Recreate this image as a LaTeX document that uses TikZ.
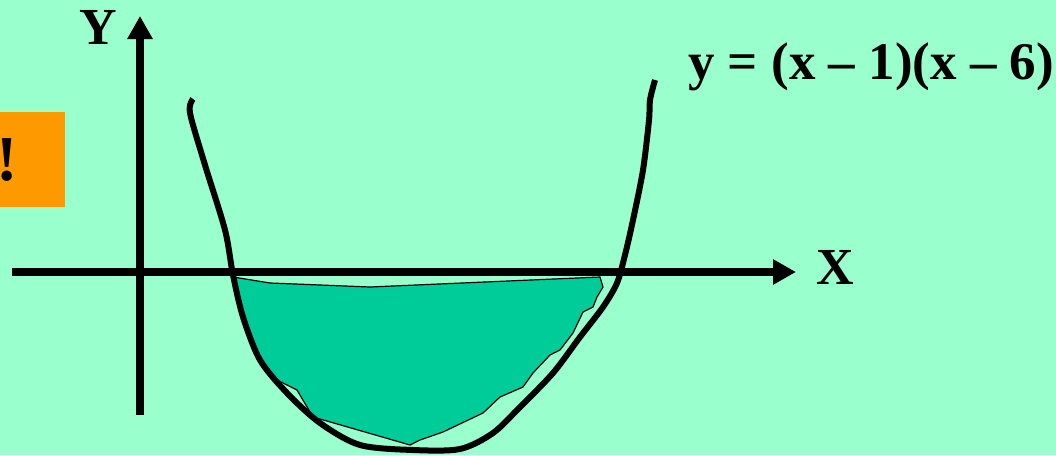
\documentclass[tikz,border=0pt]{standalone}
\usepackage{fontspec}
\setmainfont{Liberation Serif}
\usetikzlibrary{positioning,arrows.meta}
\definecolor{bgmint}{HTML}{99FFCC}
\definecolor{taborange}{HTML}{FF9900}
\definecolor{pitteal}{HTML}{00CC99}

\begin{document}
\begin{tikzpicture}[x=1pt,y=-1pt,>={Triangle[length=23pt,width=24pt]},
  axis/.style={line width=8pt,->},
  parab/.style={line width=6pt,line join=round},
  biglabel/.style={font=\fontsize{52}{60}\selectfont\bfseries,inner sep=0pt}]
  \fill[bgmint] (0,0) rectangle (1056,455);
  \useasboundingbox (0,0) rectangle (1056,455);
  % ---- orange tab ----
  \fill[taborange] (0,112) rectangle (65,207);
  \node[biglabel,font=\fontsize{64}{70}\selectfont\bfseries] (bang) at (7,160) {!};
  % ---- shaded region ----
  \filldraw[fill=pitteal,draw=black,line width=1.2pt] plot coordinates {
    (233,277) (270,283) (370,287) (600,277) (603,287) (597,297) (593,307)
    (583,312) (573,333) (560,350) (550,355) (533,373) (523,387) (500,397)
    (483,413) (443,432) (420,440) (410,445) (313,417) (297,390) (273,378)
    (263,367) (243,317)} -- cycle;
  % ---- parabola ----
  \draw[parab] plot[smooth,tension=0.5] coordinates {
    (193,99) (190,113) (205,165) (225,230) (233,275) (243,317) (260,360)
    (287,393) (320,423) (360,445) (413,450) (460,449) (493,433) (520,407)
    (553,373) (580,337) (603,307) (617,283) (625,255) (633,220) (643,170)
    (649,120) (650,100) (655,80)};
  % ---- axes ----
  \coordinate (xfrom) at (12,272);
  \coordinate (xto) at (796,272);
  \coordinate (yfrom) at (140,415);
  \coordinate (yto) at (140,16);
  \draw[axis] (xfrom) -- (xto);
  \draw[axis] (yfrom) -- (yto);
  \node[biglabel] (ylab) at (98,27) {Y};
  \node[biglabel] (xlab) at (835,267) {X};
  \node[biglabel,font=\fontsize{53}{60}\selectfont\bfseries,anchor=base west] (eqn) at (688,79) {y = (x – 1)(x – 6)};
\end{tikzpicture}
\end{document}
